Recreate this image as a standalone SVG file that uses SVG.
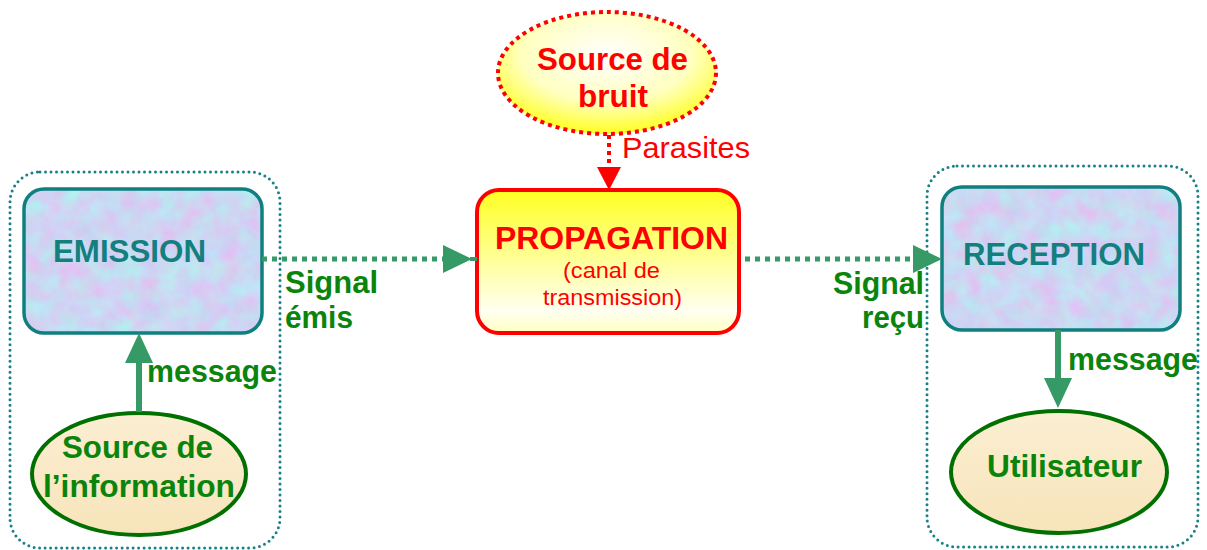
<svg xmlns="http://www.w3.org/2000/svg" width="1207" height="550" viewBox="0 0 1207 550">
<defs>
<style>
.b{font-family:"Liberation Sans",Arial,sans-serif;font-weight:bold}
.r{font-family:"Liberation Sans",Arial,sans-serif;font-weight:normal}
.teal{fill:#137f7f;font-size:31px}
.grn{fill:#0a840a;font-size:31px}
.red{fill:#ff0000}
.cont{fill:none;stroke:#1a8088;stroke-width:3;stroke-dasharray:0 5.5;stroke-linecap:round}
.box{fill:none;stroke:#0f7f7f;stroke-width:3.5}
.ell{stroke:#007000;stroke-width:4;fill:url(#beige)}
.sig{fill:none;stroke:#359a66;stroke-width:5;stroke-dasharray:5 5}
.msg{stroke:#359a66;stroke-width:6}
.ga{fill:#359a66}
</style>
<filter id="tex" x="0" y="0" width="1" height="1" color-interpolation-filters="sRGB">
<feTurbulence type="fractalNoise" baseFrequency="0.05" numOctaves="3" seed="7" result="n"/>
<feColorMatrix in="n" type="matrix" values="0.2 -0.14 0 0 0.77  -0.14 0.2 0 0 0.81  0 0 0.06 0 0.92  0 0 0 0 1" result="c"/>
<feComposite in="c" in2="SourceGraphic" operator="in"/>
</filter>
<linearGradient id="beige" x1="0" y1="0" x2="0" y2="1">
<stop offset="0" stop-color="#fbeed2"/>
<stop offset="1" stop-color="#f7e4ba"/>
</linearGradient>
<linearGradient id="yel" x1="0" y1="0" x2="0" y2="1">
<stop offset="0" stop-color="#ffff22"/>
<stop offset="0.45" stop-color="#ffff90"/>
<stop offset="0.85" stop-color="#fffff2"/>
<stop offset="1" stop-color="#ffffc0"/>
</linearGradient>
<radialGradient id="yel2" cx="0.5" cy="0.35" r="0.65">
<stop offset="0" stop-color="#ffffff"/>
<stop offset="0.6" stop-color="#ffffc0"/>
<stop offset="1" stop-color="#ffff20"/>
</radialGradient>
</defs>

<g id="group-emission">
<rect class="cont" x="10" y="172" width="270" height="376" rx="30"/>
</g>
<g id="group-reception">
<rect class="cont" x="927" y="166" width="271" height="381" rx="30"/>
</g>

<g id="emission">
<rect x="24" y="189" width="238" height="144" rx="20" fill="#c8d6f4" filter="url(#tex)"/>
<rect class="box" x="24" y="189" width="238" height="144" rx="20"/>
<text class="b teal" x="53" y="262" textLength="153" lengthAdjust="spacingAndGlyphs">EMISSION</text>
</g>

<g id="source-info">
<ellipse class="ell" cx="139" cy="474" rx="107" ry="61"/>
<text class="b grn" x="62" y="458" textLength="151" lengthAdjust="spacingAndGlyphs">Source de</text>
<text class="b grn" x="43" y="497" textLength="192" lengthAdjust="spacingAndGlyphs">l’information</text>
</g>

<g id="propagation">
<rect x="477" y="190" width="262" height="143" rx="22" fill="url(#yel)" stroke="#ff0000" stroke-width="4"/>
<text class="b red" x="495" y="249" font-size="31" textLength="233" lengthAdjust="spacingAndGlyphs">PROPAGATION</text>
<text class="r red" x="611.5" y="278" font-size="22" text-anchor="middle" textLength="97" lengthAdjust="spacingAndGlyphs">(canal de</text>
<text class="r red" x="612.5" y="305" font-size="22" text-anchor="middle" textLength="139" lengthAdjust="spacingAndGlyphs">transmission)</text>
</g>

<g id="source-bruit">
<ellipse cx="607" cy="73" rx="109" ry="61" fill="url(#yel2)" stroke="#ff0000" stroke-width="4" stroke-dasharray="4 4"/>
<text class="b red" x="537" y="70" font-size="31" textLength="151" lengthAdjust="spacingAndGlyphs">Source de</text>
<text class="b red" x="578" y="107" font-size="31" textLength="70" lengthAdjust="spacingAndGlyphs">bruit</text>
</g>

<g id="reception">
<rect x="942" y="187" width="238" height="143" rx="20" fill="#c8d6f4" filter="url(#tex)"/>
<rect class="box" x="942" y="187" width="238" height="143" rx="20"/>
<text class="b teal" x="963" y="265" textLength="182" lengthAdjust="spacingAndGlyphs">RECEPTION</text>
</g>

<g id="utilisateur">
<ellipse class="ell" cx="1059" cy="472" rx="108" ry="61"/>
<text class="b grn" x="987" y="477" textLength="155" lengthAdjust="spacingAndGlyphs">Utilisateur</text>
</g>

<g id="connectors">
<line class="sig" x1="262" y1="259" x2="444" y2="259"/>
<polygon class="ga" points="443,245 472,259 443,273"/>
<line x1="470" y1="259" x2="477" y2="259" stroke="#359a66" stroke-width="4"/>
<line class="sig" x1="745" y1="259" x2="913" y2="259"/>
<polygon class="ga" points="913,245 942,259 913,273"/>
<line class="msg" x1="139" y1="412" x2="139" y2="360"/>
<polygon class="ga" points="125,363 139,333 153,363"/>
<line class="msg" x1="1058" y1="330" x2="1058" y2="380"/>
<polygon class="ga" points="1044,378 1058,408 1072,378"/>
<line x1="609" y1="135" x2="609" y2="168" stroke="#ff0000" stroke-width="4" stroke-dasharray="4 4"/>
<polygon fill="#ff0000" points="597,167 609,190 621,167"/>
</g>

<g id="labels">
<text class="b grn" x="285" y="293" textLength="93" lengthAdjust="spacingAndGlyphs">Signal</text>
<text class="b grn" x="285" y="328" textLength="68" lengthAdjust="spacingAndGlyphs">émis</text>
<text class="b grn" x="833" y="294" textLength="91" lengthAdjust="spacingAndGlyphs">Signal</text>
<text class="b grn" x="862" y="328" textLength="62" lengthAdjust="spacingAndGlyphs">reçu</text>
<text class="b grn" x="147" y="382" textLength="130" lengthAdjust="spacingAndGlyphs">message</text>
<text class="b grn" x="1068" y="370" textLength="130" lengthAdjust="spacingAndGlyphs">message</text>
<text class="r red" x="622" y="158" font-size="29" textLength="128" lengthAdjust="spacingAndGlyphs">Parasites</text>
</g>
</svg>
